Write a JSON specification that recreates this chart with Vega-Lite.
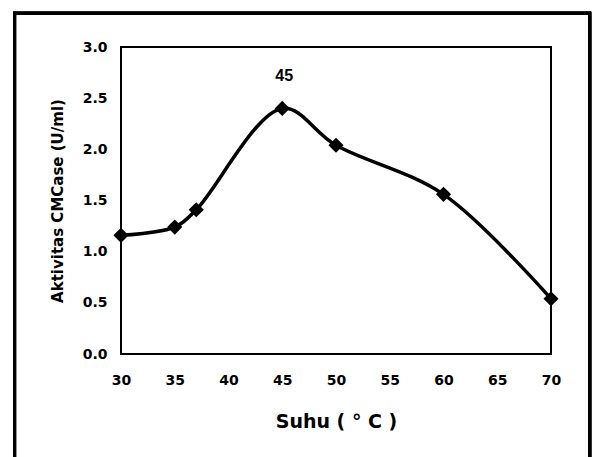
{
  "$schema": "https://vega.github.io/schema/vega-lite/v6.json",
  "width": 430,
  "height": 307,
  "autosize": {"type": "none"},
  "padding": {"left": 121, "top": 47, "right": 42, "bottom": 103},
  "background": "white",
  "config": {
    "view": {"stroke": "black", "strokeWidth": 2},
    "font": "DejaVu Sans",
    "axis": {"labelFont": "DejaVu Sans", "titleFont": "DejaVu Sans", "labelFontWeight": "bold", "titleFontWeight": "bold", "labelColor": "black", "titleColor": "black", "grid": false, "ticks": false, "domain": false, "labelFlush": false}
  },
  "data": {
    "values": [
      {"suhu": 30, "aktivitas": 1.16, "label": ""},
      {"suhu": 35, "aktivitas": 1.24, "label": ""},
      {"suhu": 37, "aktivitas": 1.41, "label": ""},
      {"suhu": 45, "aktivitas": 2.40, "label": "45"},
      {"suhu": 50, "aktivitas": 2.04, "label": ""},
      {"suhu": 60, "aktivitas": 1.56, "label": ""},
      {"suhu": 70, "aktivitas": 0.54, "label": ""}
    ]
  },
  "encoding": {
    "x": {
      "field": "suhu", "type": "quantitative",
      "scale": {"domain": [30, 70], "nice": false, "zero": false},
      "axis": {"values": [30, 35, 40, 45, 50, 55, 60, 65, 70], "labelFontSize": 14, "labelPadding": 19, "title": "Suhu ( °  C )", "titleFontSize": 19, "titlePadding": 25}
    },
    "y": {
      "field": "aktivitas", "type": "quantitative",
      "scale": {"domain": [0, 3], "nice": false},
      "axis": {"values": [0, 0.5, 1, 1.5, 2, 2.5, 3], "format": ".1f", "labelFontSize": 14, "labelPadding": 14, "title": "Aktivitas CMCase (U/ml)", "titleFontSize": 15, "titlePadding": 17}
    }
  },
  "layer": [
    {
      "mark": {"type": "line", "color": "black", "strokeWidth": 3.5, "interpolate": "catmull-rom"}
    },
    {
      "mark": {"type": "point", "shape": "diamond", "filled": true, "color": "black", "size": 230, "opacity": 1}
    },
    {
      "mark": {"type": "text", "dy": -32, "dx": 2, "fontSize": 16, "fontWeight": "bold", "color": "black", "font": "Liberation Sans"},
      "encoding": {"text": {"field": "label"}}
    },
    {
      "mark": {"type": "rect", "fill": null, "stroke": "black", "strokeWidth": 3, "clip": false},
      "encoding": {
        "x": {"datum": 20.1},
        "x2": {"datum": 73.6},
        "y": {"datum": 3.33},
        "y2": {"datum": -1.3}
      }
    }
  ]
}
